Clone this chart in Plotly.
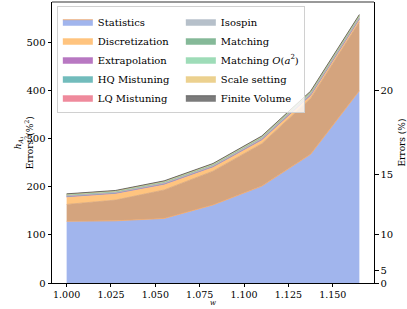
import plotly.graph_objects as go

w = [1.0, 1.0275, 1.055, 1.0825, 1.11, 1.1375, 1.165]

statistics = [128, 129, 134, 162, 201, 267, 399]
discretization_fit = [35, 43, 59, 70, 88, 116, 143]
discretization = [15, 13, 11, 8, 7, 5, 4]
extrapolation = [1.2, 1.2, 1.3, 1.3, 1.4, 1.6, 1.8]
hq_mistuning = [0.8, 0.8, 0.9, 0.9, 1.0, 1.1, 1.2]
lq_mistuning = [1.0, 1.0, 1.1, 1.1, 1.2, 1.3, 1.4]
isospin = [0.5, 0.5, 0.6, 0.6, 0.7, 0.8, 0.9]
matching = [1.5, 1.5, 1.7, 1.7, 1.9, 2.1, 2.3]
matching_oa2 = [0.5, 0.5, 0.6, 0.6, 0.7, 0.8, 0.9]
scale_setting = [0.5, 0.5, 0.6, 0.6, 0.7, 0.8, 0.9]
finite_volume = [1.0, 1.0, 1.2, 1.2, 1.4, 1.5, 1.6]

right_ticks = [0, 5, 10, 15, 20]

series = [
    ("Statistics", statistics, "#a1b5ed", "#f2a86a", 1, True),
    ("Discretization", discretization_fit, "#d4a47e", "#d4a47e", 3, False),
    ("Discretization", discretization, "#ffc47f", "#ffc47f", 3, True),
    ("Extrapolation", extrapolation, "#b878c2", "#b878c2", 5, True),
    ("HQ Mistuning", hq_mistuning, "#72bcbc", "#72bcbc", 7, True),
    ("LQ Mistuning", lq_mistuning, "#ef8a9c", "#ef8a9c", 9, True),
    ("Isospin", isospin, "#b6c0ca", "#b6c0ca", 2, True),
    ("Matching", matching, "#85b998", "#85b998", 4, True),
    ("Matching <i>O</i>(<i>a</i><sup>2</sup>)", matching_oa2, "#9edcb8", "#9edcb8", 6, True),
    ("Scale setting", scale_setting, "#ecd18f", "#ecd18f", 8, True),
    ("Finite Volume", finite_volume, "#7b7b7b", "#555555", 10, True),
]

FAM = "DejaVu Serif"

fig = go.Figure()
for name, vals, fc, lc, rank, show in series:
    fig.add_trace(go.Scatter(
        x=w, y=vals, name=name, mode="lines", stackgroup="one",
        fillcolor=fc, line=dict(color=lc, width=0.8),
        legendrank=rank, showlegend=show, hoverinfo="skip",
    ))
fig.add_trace(go.Scatter(x=[w[0]], y=[0], yaxis="y2", mode="markers",
                         marker=dict(opacity=0), showlegend=False, hoverinfo="skip"))

fig.update_layout(
    width=407, height=309,
    margin=dict(l=52, r=33, t=2, b=26),
    paper_bgcolor="white", plot_bgcolor="white",
    font=dict(family=FAM, size=10, color="black"),
    showlegend=True,
    legend=dict(
        orientation="h", traceorder="normal", x=0.015, y=0.985, xanchor="left", yanchor="top",
        entrywidth=78, entrywidthmode="pixels", bgcolor="rgba(255,255,255,0.8)",
        bordercolor="#d0d0d0", borderwidth=1,
        font=dict(family=FAM, size=10, color="black"),
        itemwidth=30, tracegroupgap=0,
    ),
    xaxis=dict(
        range=[0.99175, 1.17325], tickvals=[1.0, 1.025, 1.05, 1.075, 1.1, 1.125, 1.15],
        tickformat=".3f", ticks="outside", ticklen=3, tickcolor="black",
        tickfont=dict(family=FAM, size=9.5),
        showline=True, linecolor="black", linewidth=1, showgrid=False, zeroline=False,
    ),
    yaxis=dict(
        range=[0, 583], tickvals=[0, 100, 200, 300, 400, 500],
        ticks="outside", ticklen=3.5, tickcolor="black",
        showline=True, linecolor="black", linewidth=1, showgrid=False, zeroline=False,
    ),
    yaxis2=dict(
        overlaying="y", side="right", range=[0, 583],
        tickvals=[t ** 2 for t in right_ticks], ticktext=[str(t) for t in right_ticks],
        ticks="outside", ticklen=3.5, tickcolor="black",
        showline=True, linecolor="black", linewidth=1, showgrid=False, zeroline=False,
    ),
    shapes=[dict(type="line", xref="paper", yref="paper", x0=0, x1=1, y0=1, y1=1,
                 line=dict(color="#999999", width=2))],
    annotations=[
        dict(text="<i>w</i>", xref="paper", yref="paper", x=0.5, y=-0.091,
             xanchor="center", yanchor="bottom", showarrow=False, font=dict(family=FAM, size=7)),
        dict(text="<i>h</i><sub><i>A</i>₁</sub><br>Errors<sup>2</sup>(%<sup>2</sup>)",
             xref="paper", yref="paper", x=-0.047, y=0.5, xanchor="right", yanchor="middle",
             textangle=-90, showarrow=False, font=dict(family=FAM, size=9)),
        dict(text="Errors (%)", xref="paper", yref="paper", x=1.084, y=0.5,
             xanchor="center", yanchor="middle", textangle=-90, showarrow=False,
             font=dict(family=FAM, size=9)),
    ],
)

fig.write_html("out.html", post_script="document.body.style.margin='0';",
               config={"displayModeBar": False})
